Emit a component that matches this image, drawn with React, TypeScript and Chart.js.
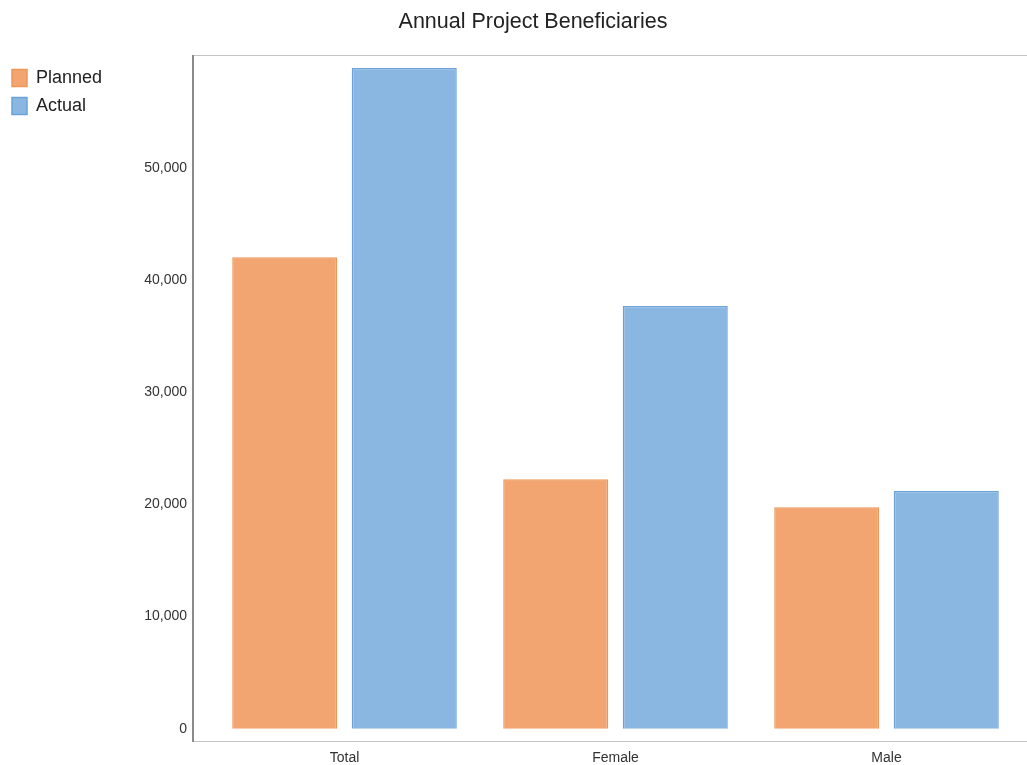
import React, { useEffect, useRef } from "react";
import { Chart, registerables } from "chart.js";

Chart.register(...registerables);

const categories = ["Total", "Female", "Male"];
const plannedValues = [42050, 22250, 19750];
const actualValues = [58950, 37700, 21200];
const yTickValues = [0, 10000, 20000, 30000, 40000, 50000];

const framePlugin = {
  id: "frame",
  afterLayout(chart: any) {
    const t = chart.titleBlock;
    if (t) {
      t.left += 44;
    }
    const lg = chart.legend;
    if (lg) {
      lg.top += 4;
      lg.bottom += 4;
      lg.left += 2;
      lg.right += 2;
    }
  },
  afterDatasetsDraw(chart: any) {
    const { ctx, chartArea, width } = chart;
    const lx = chartArea.left - 16;
    ctx.save();
    ctx.strokeStyle = "#c4c4c4";
    ctx.lineWidth = 1;
    ctx.beginPath();
    ctx.moveTo(lx, chartArea.top + 0.5);
    ctx.lineTo(width, chartArea.top + 0.5);
    ctx.moveTo(lx, chartArea.bottom + 0.5);
    ctx.lineTo(width, chartArea.bottom + 0.5);
    ctx.stroke();
    ctx.strokeStyle = "#8a8a8a";
    ctx.lineWidth = 2;
    ctx.beginPath();
    ctx.moveTo(lx, chartArea.top);
    ctx.lineTo(lx, chartArea.bottom + 1);
    ctx.stroke();
    ctx.restore();
  },
};

export default function App() {
  const ref = useRef<HTMLCanvasElement | null>(null);
  useEffect(() => {
    document.body.style.margin = "0";
    Chart.defaults.font.family = "'Liberation Sans', Arial, sans-serif";
    const chart = new Chart(ref.current as HTMLCanvasElement, {
      type: "bar",
      data: {
        labels: categories,
        datasets: [
          {
            label: "Planned",
            data: plannedValues,
            backgroundColor: "#F2A571",
            borderColor: "#EE9658",
            borderWidth: 1.5,
            categoryPercentage: 0.882,
            barPercentage: 0.879,
          },
          {
            label: "Actual",
            data: actualValues,
            backgroundColor: "#8AB7E1",
            borderColor: "#6CA2D8",
            borderWidth: 1.5,
            categoryPercentage: 0.882,
            barPercentage: 0.879,
          },
        ],
      },
      options: {
        animation: false,
        responsive: false,
        maintainAspectRatio: false,
        layout: { padding: { left: 0, right: 5, top: 0, bottom: 0 } },
        plugins: {
          title: {
            display: true,
            text: "Annual Project Beneficiaries",
            color: "#222",
            font: { size: 21.5, weight: "normal" },
            padding: { top: 9.5, bottom: 19.7 },
          },
          legend: {
            position: "left",
            align: "start",
            fullSize: false,
            labels: {
              boxWidth: 15,
              boxHeight: 17,
              color: "#222",
              font: { size: 18 },
              padding: 10,
            },
          },
          tooltip: { enabled: false },
        },
        scales: {
          x: {
            grid: { display: false, drawTicks: false },
            border: { display: false },
            afterFit(scale: any) {
              scale.height = 24;
            },
            ticks: { color: "#333", font: { size: 14 }, padding: 9 },
          },
          y: {
            min: -1100,
            max: 60100,
            grid: { display: false, drawTicks: true, tickLength: 16 },
            border: { display: false },
            afterBuildTicks(scale: any) {
              scale.ticks = yTickValues.map((v) => ({ value: v }));
            },
            afterFit(scale: any) {
              const lw = scale.chart.legend ? scale.chart.legend.width : 0;
              scale.width = 209 - lw;
            },
            ticks: {
              color: "#333",
              font: { size: 14 },
              padding: 6,
              callback: (v: any) => Number(v).toLocaleString("en-US"),
            },
          },
        },
      },
      plugins: [framePlugin],
    });
    return () => chart.destroy();
  }, []);
  return (
    <div style={{ width: 1027, height: 765 }}>
      <canvas ref={ref} width={1027} height={765} style={{ display: "block" }} />
    </div>
  );
}
